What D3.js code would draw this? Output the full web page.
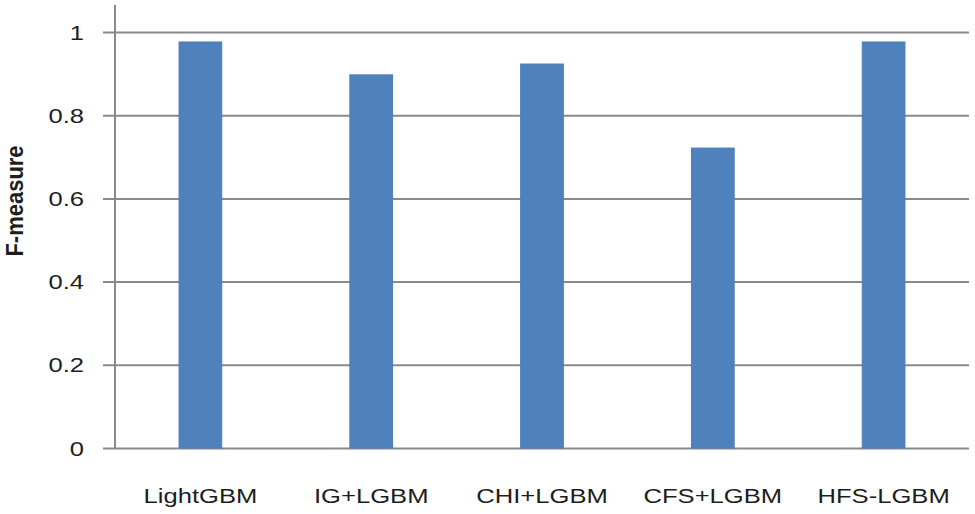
<!DOCTYPE html>
<html>
<head>
<meta charset="utf-8">
<script src="https://cdn.jsdelivr.net/npm/d3@7"></script>
<style>
  body { margin: 0; background: #fff; }
  svg { display: block; }
  text { font-family: "Liberation Sans", Arial, sans-serif; fill: #1e1e1e; }
</style>
</head>
<body>
<svg width="975" height="514"></svg>
<script>
// data
var methods = ["LightGBM", "IG+LGBM", "CHI+LGBM", "CFS+LGBM", "HFS-LGBM"];
var fmeasure = [0.976, 0.897, 0.923, 0.721, 0.976];
var yTicks = [0, 0.2, 0.4, 0.6, 0.8, 1];

var svg = d3.select("svg"),
    plotLeft = 115, plotRight = 969, plotTop = 32, plotBottom = 448,
    stretch = 1.22; // text in the original is drawn a little wide

var x = d3.scaleBand()
    .domain(methods)
    .range([plotLeft, plotRight])
    .paddingInner(0.75)
    .paddingOuter(0.375);

var y = d3.scaleLinear()
    .domain([0, 1])
    .range([plotBottom, plotTop]);

// y axis + gridlines
var yAxis = svg.append("g")
    .attr("transform", "translate(" + plotLeft + ",0)")
    .call(d3.axisLeft(y).tickValues(yTicks).tickFormat(d3.format("~g")).tickSize(0).tickPadding(0));

yAxis.select(".domain").remove();
yAxis.selectAll(".tick line")
    .attr("x1", -12)
    .attr("x2", plotRight - plotLeft)
    .attr("stroke", "#8a8a8a")
    .attr("stroke-width", 2);
yAxis.selectAll(".tick text")
    .attr("x", null)
    .attr("dy", null)
    .attr("transform", "translate(-31,7) scale(" + stretch + ",1)")
    .style("font-size", "21px")
    .attr("fill", "#1e1e1e");

// vertical axis line (runs a bit above 1)
svg.append("line")
    .attr("x1", plotLeft).attr("x2", plotLeft)
    .attr("y1", y(0)).attr("y2", y(1.065))
    .attr("stroke", "#8a8a8a")
    .attr("stroke-width", 2);

// bars
svg.selectAll(".bar")
    .data(methods)
    .enter().append("rect")
      .attr("class", "bar")
      .attr("x", function(d) { return x(d); })
      .attr("width", x.bandwidth())
      .attr("y", function(d, i) { return y(fmeasure[i]); })
      .attr("height", function(d, i) { return y(0) - y(fmeasure[i]); })
      .attr("fill", "#4f81bd")
      .attr("stroke", "#4a7ebb")
      .attr("stroke-width", 1);

// x axis labels
var xAxis = svg.append("g")
    .attr("transform", "translate(0," + plotBottom + ")")
    .call(d3.axisBottom(x).tickSize(0).tickPadding(0));

xAxis.select(".domain").remove();
xAxis.selectAll(".tick text")
    .attr("y", null)
    .attr("dy", null)
    .attr("transform", "translate(0,55) scale(" + stretch + ",1)")
    .style("font-size", "21px")
    .attr("fill", "#1e1e1e");

// title
svg.append("text")
    .attr("transform", "translate(23,201) rotate(-90) scale(1,1.12)")
    .attr("text-anchor", "middle")
    .style("font-size", "22px")
    .style("font-weight", "bold")
    .attr("fill", "#000")
    .text("F-measure");
</script>
</body>
</html>
